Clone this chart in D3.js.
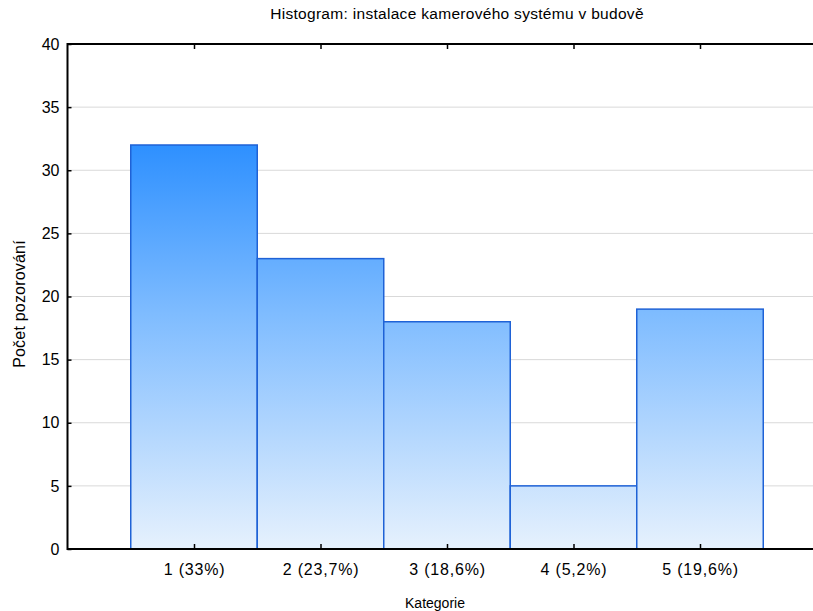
<!DOCTYPE html>
<html><head><meta charset="utf-8">
<script src="https://cdn.jsdelivr.net/npm/d3@7"></script>
<style>body{margin:0;background:#fff}svg{display:block}text{font-family:"Liberation Sans",Arial,sans-serif;fill:#000}</style>
</head><body><svg id="c" width="813" height="611"></svg>
<script>
const categories = [1, 2, 3, 4, 5];
const counts = [32, 23, 18, 5, 19];
const catLabels = ["1 (33%)", "2 (23,7%)", "3 (18,6%)", "4 (5,2%)", "5 (19,6%)"];
const yTicks = [0, 5, 10, 15, 20, 25, 30, 35, 40];
const title = "Histogram: instalace kamerového systému v budově";
const xTitle = "Kategorie";
const yTitle = "Počet pozorování";

const svg = d3.select("#c");
const x = d3.scaleLinear().domain([0, 6]).range([67.5, 826.5]);
const y = d3.scaleLinear().domain([0, 40]).range([549, 44]);
const xr = 813;

const defs = svg.append("defs");
const g = defs.append("linearGradient").attr("id", "bg")
  .attr("gradientUnits", "userSpaceOnUse")
  .attr("x1", 0).attr("x2", 0).attr("y1", y(32)).attr("y2", y(0));
g.append("stop").attr("offset", "0").attr("stop-color", "#2e90ff");
g.append("stop").attr("offset", "0.42").attr("stop-color", "#7fbcff");
g.append("stop").attr("offset", "1").attr("stop-color", "#e6f1fd");

// gridlines
svg.append("g").selectAll("line").data(yTicks.filter(d => d > 0 && d < 40)).join("line")
  .attr("x1", x(0)).attr("x2", xr).attr("y1", d => y(d)).attr("y2", d => y(d))
  .attr("stroke", "#d9d9d9").attr("stroke-width", 1);

// bars
svg.append("g").selectAll("rect").data(categories).join("rect")
  .attr("x", (d) => x(d - 0.5))
  .attr("width", (d) => x(d + 0.5) - x(d - 0.5))
  .attr("y", (d, i) => y(counts[i]))
  .attr("height", (d, i) => y(0) - y(counts[i]))
  .attr("fill", "url(#bg)")
  .attr("stroke", "#1f62d6").attr("stroke-width", 1.5);

// axes
const yAxis = d3.axisLeft(y).tickValues(yTicks).tickSize(-4).tickPadding(8).tickFormat(d3.format("d"));
const ya = svg.append("g").attr("transform", `translate(${x(0)},0)`).call(yAxis);
ya.select(".domain").remove();
ya.selectAll(".tick line").attr("stroke", "#000").attr("stroke-width", 1.5);
ya.selectAll(".tick text").attr("font-size", 16).attr("font-family", "Liberation Sans, Arial, sans-serif");

const xAxis = d3.axisBottom(x).tickValues(categories).tickSize(-5).tickPadding(14)
  .tickFormat((d, i) => catLabels[i]);
const xa = svg.append("g").attr("transform", `translate(0,${y(0)})`).call(xAxis);
xa.select(".domain").remove();
xa.selectAll(".tick line").attr("stroke", "#000").attr("stroke-width", 1.5);
xa.selectAll(".tick text").attr("font-size", 16).attr("letter-spacing", 0.8)
  .attr("font-family", "Liberation Sans, Arial, sans-serif")
  .attr("dy", null).attr("y", 26);

const xTop = d3.axisTop(x).tickValues(categories).tickSize(-5).tickFormat("");
const xt = svg.append("g").attr("transform", `translate(0,${y(40)})`).call(xTop);
xt.select(".domain").remove();
xt.selectAll(".tick line").attr("stroke", "#000").attr("stroke-width", 1.5);

// frame lines
svg.append("line").attr("x1", x(0)).attr("x2", xr).attr("y1", y(0)).attr("y2", y(0)).attr("stroke", "#000").attr("stroke-width", 2);
svg.append("line").attr("x1", x(0)).attr("x2", xr).attr("y1", y(40)).attr("y2", y(40)).attr("stroke", "#000").attr("stroke-width", 2);
svg.append("line").attr("x1", x(0)).attr("x2", x(0)).attr("y1", y(40) - 1).attr("y2", y(0) + 1).attr("stroke", "#000").attr("stroke-width", 2);

// titles
svg.append("text").attr("x", 457).attr("y", 19).attr("text-anchor", "middle").attr("font-size", 15.5).attr("letter-spacing", 0.3).text(title);
svg.append("text").attr("x", 435).attr("y", 608).attr("text-anchor", "middle").attr("font-size", 14).text(xTitle);
svg.append("text").attr("transform", "translate(25,304) rotate(-90)").attr("text-anchor", "middle").attr("font-size", 16).attr("letter-spacing", 0.2).text(yTitle);
</script></body></html>
